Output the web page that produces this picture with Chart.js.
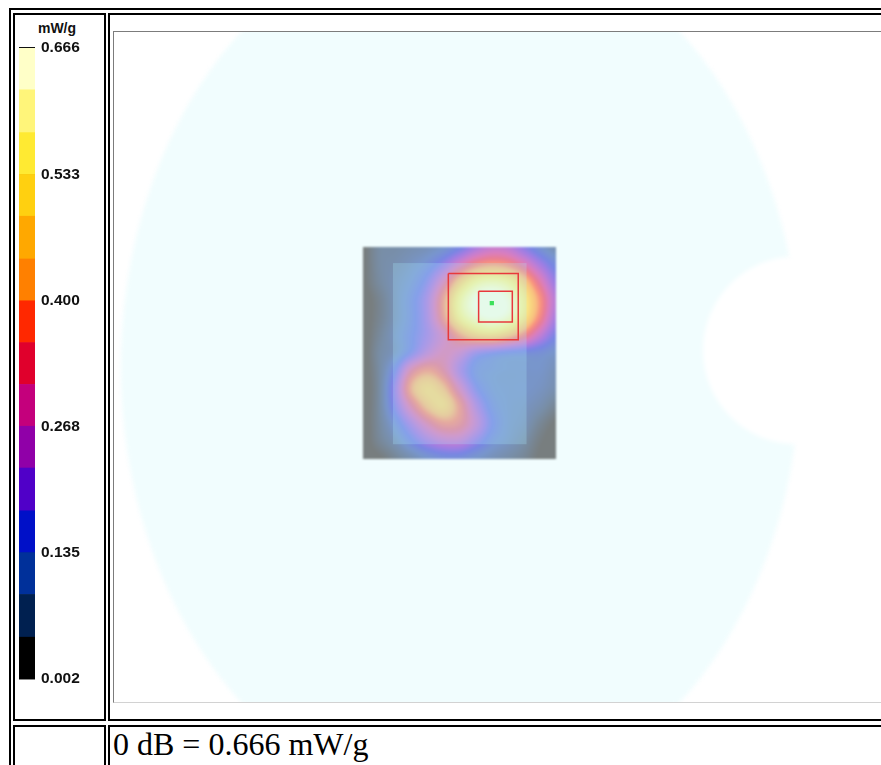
<!DOCTYPE html>
<html>
<head>
<meta charset="utf-8">
<script src="https://cdn.jsdelivr.net/npm/chart.js@4.4.1/dist/chart.umd.min.js"></script>
<style>
  html, body { margin: 0; padding: 0; background: #fff; width: 881px; height: 765px; overflow: hidden; position: relative; }
  .box { position: absolute; border: 2px solid #000; box-sizing: border-box; }
  #outer    { left: 9px;   top: 8px;   width: 1100px; height: 900px; }
  #cellBar  { left: 13px;  top: 13px;  width: 93px;   height: 708px; }
  #cellMap  { left: 108px; top: 13px;  width: 1000px; height: 708px; }
  #cellNote { left: 13px;  top: 725px; width: 93px;   height: 200px; }
  #cellText { left: 108px; top: 725px; width: 1000px; height: 200px; }
  #unit { position: absolute; left: 27px; top: 20px; width: 60px; text-align: center;
          font: bold 14px 'Liberation Sans', Arial, sans-serif; line-height: 16px; color: #111; }
  #frame { position: absolute; left: 113px; top: 31px; width: 800px; height: 672px; box-sizing: border-box;
           border-top: 1px solid #7c7c7c; border-left: 1px solid #7c7c7c; border-bottom: 1px solid #d2d2d2; }
  #mapCanvas { position: absolute; left: 114px; top: 32px; }
  #barCanvas { position: absolute; left: 15px; top: 15px; }
  #note { position: absolute; left: 113px; top: 726px; font: 32px 'Liberation Serif', 'Times New Roman', serif;
          line-height: 36px; color: #000; white-space: nowrap; }
</style>
</head>
<body>
<div class="box" id="outer"></div>
<div class="box" id="cellBar"></div>
<div class="box" id="cellMap"></div>
<div class="box" id="cellNote"></div>
<div class="box" id="cellText"></div>
<div id="unit">mW/g</div>
<div id="frame"></div>
<canvas id="barCanvas" width="83" height="705"></canvas>
<canvas id="mapCanvas" width="799" height="670"></canvas>
<div id="note">0 dB = 0.666 mW/g</div>

<script>
// ---- colour scale (mW/g) ----
const bandEdges = [0.002, 0.046, 0.091, 0.135, 0.179, 0.224, 0.268, 0.312, 0.356, 0.400, 0.444, 0.489, 0.533, 0.577, 0.622, 0.666];
const bandColors = ['#000000', '#002050', '#00309a', '#0010c8', '#5000c8', '#9000a8', '#c4007c', '#e0002c',
                    '#ff2800', '#ff8000', '#ffa800', '#ffd010', '#ffea32', '#fff57a', '#ffffc8'];
const tickValues = [0.002, 0.135, 0.268, 0.400, 0.533, 0.666];
const tickLabels = ['0.002', '0.135', '0.268', '0.400', '0.533', '0.666'];

// ---- phantom geometry (mm) ----
const phantomCenter = [0, -9.9];
const phantomSemiAxes = [200.6, 260];
const notchCenter = [198.8, 0];
const notchRadius = 55.6;

// ---- area scan (mm, rows from top to bottom) ----
const gridX = [-57.5, -48, -38.5, -29, -19.5, -10, -0.5, 9, 18.5, 28, 37.5, 47, 56.5];
const gridY = [61.4, 50.9, 40.5, 30.0, 19.5, 9.0, -1.5, -11.9, -22.4, -32.9, -43.4, -53.8, -64.3];
const sarGrid = [
  [0.02, 0.065, 0.07, 0.08, 0.09, 0.11, 0.15, 0.21, 0.25, 0.24, 0.18, 0.12, 0.08],
  [0.02, 0.065, 0.08, 0.10, 0.13, 0.19, 0.28, 0.36, 0.39, 0.37, 0.30, 0.21, 0.14],
  [0.02, 0.06, 0.09, 0.12, 0.18, 0.30, 0.45, 0.55, 0.58, 0.55, 0.45, 0.31, 0.19],
  [0.01, 0.045, 0.09, 0.14, 0.22, 0.38, 0.55, 0.64, 0.666, 0.63, 0.53, 0.38, 0.23],
  [0.01, 0.045, 0.09, 0.14, 0.22, 0.37, 0.53, 0.61, 0.64, 0.61, 0.51, 0.36, 0.21],
  [0.01, 0.055, 0.10, 0.15, 0.21, 0.29, 0.39, 0.46, 0.48, 0.44, 0.36, 0.25, 0.16],
  [0.01, 0.065, 0.10, 0.17, 0.25, 0.30, 0.27, 0.20, 0.17, 0.15, 0.14, 0.13, 0.11],
  [0.01, 0.065, 0.16, 0.32, 0.38, 0.33, 0.22, 0.14, 0.12, 0.11, 0.11, 0.11, 0.09],
  [0.01, 0.065, 0.20, 0.40, 0.47, 0.42, 0.29, 0.17, 0.12, 0.11, 0.11, 0.10, 0.08],
  [0.01, 0.065, 0.18, 0.32, 0.43, 0.47, 0.37, 0.23, 0.14, 0.11, 0.10, 0.08, 0.05],
  [0.01, 0.06, 0.13, 0.22, 0.31, 0.37, 0.35, 0.26, 0.16, 0.11, 0.09, 0.05, 0.02],
  [0.01, 0.05, 0.09, 0.15, 0.21, 0.25, 0.25, 0.19, 0.13, 0.10, 0.07, 0.03, 0.01],
  [0.01, 0.02, 0.05, 0.08, 0.11, 0.13, 0.13, 0.11, 0.09, 0.07, 0.05, 0.02, 0.01]
];
// fine-scan sub-region (x0, y0, x1, y1)
const fineRegion = [-39.9, 51.6, 39.0, -55.6];
// zoom scan cubes (x0, y0, x1, y1) and the peak location
const zoomScanOuter = [-7.2, 45.4, 34.1, 6.3];
const zoomScanInner = [10.7, 34.9, 30.6, 16.8];
const peakLocation = [18.5, 27.9];

const PHANTOM_FILL = [241, 253, 254];

// ---------- colour bar ----------
new Chart(document.getElementById('barCanvas'), {
  type: 'bar',
  data: {
    labels: [''],
    datasets: bandColors.map((c, i) => ({
      data: [[bandEdges[i], bandEdges[i + 1]]],
      backgroundColor: c,
      borderWidth: 0,
      barPercentage: 1,
      categoryPercentage: 1,
      grouped: false
    }))
  },
  options: {
    responsive: false,
    animation: false,
    devicePixelRatio: 1,
    layout: { padding: { left: 4, right: 0, top: 33, bottom: 41 } },
    plugins: { legend: { display: false }, tooltip: { enabled: false } },
    scales: {
      x: { display: false },
      y: {
        position: 'right',
        min: 0.002, max: 0.666,
        z: 1,
        afterBuildTicks: s => { s.ticks = tickValues.map(v => ({ value: v })); },
        afterFit: s => { s.width = 63; },
        border: { display: false },
        grid: { color: '#111', lineWidth: 1.5, drawTicks: false },
        ticks: {
          padding: 6,
          color: '#111',
          font: { family: "'Liberation Sans', Arial, sans-serif", weight: 'bold', size: 15.5 },
          callback: (v, i) => tickLabels[i]
        }
      }
    }
  }
});

// ---------- SAR map ----------
function lerp(a, b, t) { return a + (b - a) * t; }
function hexRgb(h) { return [parseInt(h.slice(1, 3), 16), parseInt(h.slice(3, 5), 16), parseInt(h.slice(5, 7), 16)]; }
const bandRgb = bandColors.map(hexRgb);
const bandMid = bandColors.map((c, i) => (bandEdges[i] + bandEdges[i + 1]) / 2);

function colourFor(v) {
  if (v <= bandMid[0]) return bandRgb[0];
  const n = bandMid.length;
  if (v >= bandMid[n - 1]) return bandRgb[n - 1];
  let i = 0;
  while (v > bandMid[i + 1]) i++;
  const t = (v - bandMid[i]) / (bandMid[i + 1] - bandMid[i]);
  return [0, 1, 2].map(k => lerp(bandRgb[i][k], bandRgb[i + 1][k], t));
}

function cubic(p0, p1, p2, p3, t) {
  return p1 + 0.5 * t * (p2 - p0 + t * (2 * p0 - 5 * p1 + 4 * p2 - p3 + t * (3 * (p1 - p2) + p3 - p0)));
}
function gridIndex(axis, v) {
  const n = axis.length;
  for (let i = 0; i < n - 1; i++) {
    const a = axis[i], b = axis[i + 1];
    if ((v - a) * (v - b) <= 0) return i + (v - a) / (b - a);
  }
  return (Math.abs(v - axis[0]) < Math.abs(v - axis[n - 1])) ? 0 : n - 1;
}
function sampleGrid(fx, fy) {
  const ny = sarGrid.length, nx = sarGrid[0].length;
  const cl = (i, n) => Math.max(0, Math.min(n - 1, i));
  const ix = Math.min(Math.floor(fx), nx - 2), iy = Math.min(Math.floor(fy), ny - 2);
  const tx = fx - ix, ty = fy - iy;
  const col = [];
  for (let j = -1; j <= 2; j++) {
    const r = sarGrid[cl(iy + j, ny)];
    col.push(cubic(r[cl(ix - 1, nx)], r[cl(ix, nx)], r[cl(ix + 1, nx)], r[cl(ix + 2, nx)], tx));
  }
  return cubic(col[0], col[1], col[2], col[3], ty);
}

const phantomPlugin = {
  id: 'phantom',
  beforeDatasetsDraw(chart) {
    const { ctx, scales: { x, y } } = chart;
    const cx = x.getPixelForValue(phantomCenter[0]), cy = y.getPixelForValue(phantomCenter[1]);
    const rx = x.getPixelForValue(phantomCenter[0] + phantomSemiAxes[0]) - cx;
    const ry = cy - y.getPixelForValue(phantomCenter[1] + phantomSemiAxes[1]);
    const nx = x.getPixelForValue(notchCenter[0]), ny = y.getPixelForValue(notchCenter[1]);
    const nr = x.getPixelForValue(notchCenter[0] + notchRadius) - nx;
    ctx.save();
    ctx.filter = 'blur(2px)';
    ctx.fillStyle = `rgb(${PHANTOM_FILL.join(',')})`;
    ctx.beginPath();
    ctx.ellipse(cx, cy, rx, ry, 0, 0, Math.PI * 2);
    ctx.fill();
    ctx.globalCompositeOperation = 'destination-out';
    ctx.beginPath();
    ctx.arc(nx, ny, nr, 0, Math.PI * 2);
    ctx.fill();
    ctx.restore();
  }
};

const heatPlugin = {
  id: 'sarHeat',
  beforeDatasetsDraw(chart) {
    const { ctx, scales: { x, y } } = chart;
    const left = Math.round(x.getPixelForValue(gridX[0]));
    const right = Math.round(x.getPixelForValue(gridX[gridX.length - 1]));
    const top = Math.round(y.getPixelForValue(gridY[0]));
    const bottom = Math.round(y.getPixelForValue(gridY[gridY.length - 1]));
    const w = right - left, h = bottom - top;
    const off = document.createElement('canvas');
    off.width = w; off.height = h;
    const octx = off.getContext('2d');
    const img = octx.createImageData(w, h);
    for (let py = 0; py < h; py++) {
      const fy = gridIndex(gridY, y.getValueForPixel(top + py + 0.5));
      for (let px = 0; px < w; px++) {
        const fx = gridIndex(gridX, x.getValueForPixel(left + px + 0.5));
        const rgb = colourFor(sampleGrid(fx, fy));
        const k = (py * w + px) * 4;
        img.data[k] = rgb[0]; img.data[k + 1] = rgb[1]; img.data[k + 2] = rgb[2]; img.data[k + 3] = 255;
      }
    }
    octx.putImageData(img, 0, 0);
    ctx.save();
    ctx.filter = 'blur(0.8px)';
    ctx.globalAlpha = 0.5;
    ctx.drawImage(off, left, top);
    ctx.restore();
    // lighter wash over the fine-scan region
    const fl = x.getPixelForValue(fineRegion[0]), fr = x.getPixelForValue(fineRegion[2]);
    const ft = y.getPixelForValue(fineRegion[1]), fb = y.getPixelForValue(fineRegion[3]);
    ctx.save();
    ctx.fillStyle = 'rgba(170, 240, 255, 0.25)';
    ctx.fillRect(fl, ft, fr - fl, fb - ft);
    ctx.restore();
  }
};

function boxPoints(b) {
  return [{ x: b[0], y: b[1] }, { x: b[2], y: b[1] }, { x: b[2], y: b[3] }, { x: b[0], y: b[3] }, { x: b[0], y: b[1] }];
}

new Chart(document.getElementById('mapCanvas'), {
  type: 'scatter',
  data: {
    datasets: [
      { data: boxPoints(zoomScanOuter), showLine: true, borderColor: '#e8383c', borderWidth: 1.5, pointRadius: 0, fill: false },
      { data: boxPoints(zoomScanInner), showLine: true, borderColor: '#e8383c', borderWidth: 1.5, pointRadius: 0, fill: false },
      { data: [{ x: peakLocation[0], y: peakLocation[1] }], pointStyle: 'rect', pointRadius: 3,
        backgroundColor: '#3ce05a', borderWidth: 0 }
    ]
  },
  options: {
    responsive: false,
    animation: false,
    devicePixelRatio: 1,
    layout: { padding: 0 },
    plugins: { legend: { display: false }, tooltip: { enabled: false } },
    scales: {
      x: { type: 'linear', display: false, min: -202.3, max: 264.9 },
      y: { type: 'linear', display: false, min: -205.8, max: 186.0 }
    }
  },
  plugins: [phantomPlugin, heatPlugin]
});
</script>
</body>
</html>
